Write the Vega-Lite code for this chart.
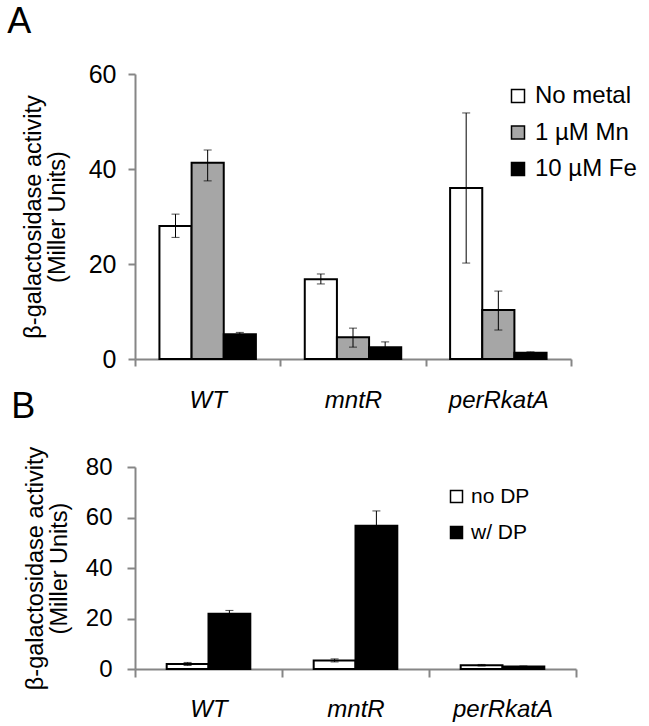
{
  "$schema": "https://vega.github.io/schema/vega-lite/v6.json",
  "padding": {"left": 7, "top": 4, "right": 5, "bottom": 5},
  "bounds": "flush",
  "spacing": 108,
  "config": {
    "view": {"stroke": null},
    "font": "Liberation Sans",
    "axis": {
      "domainColor": "#868686", "domainWidth": 2, "tickColor": "#868686", "tickWidth": 2,
      "labelColor": "black", "titleColor": "black", "grid": false, "labelFont": "Liberation Sans", "titleFont": "Liberation Sans", "titleFontWeight": "normal"
    },
    "axisY": {"titleFontSize": 23.5, "titleLineHeight": 24, "labelFontSize": 25, "titleLimit": 1000},
    "axisX": {"labelFontSize": 24, "labelFontStyle": "italic", "labelAngle": 0},
    "legend": {"padding": 0}
  },
  "datasets": {
    "A": [
      {"strain": "WT", "condition": "No metal", "mean": 28.0, "lo": 25.6, "hi": 30.5},
      {"strain": "WT", "condition": "1 µM Mn", "mean": 41.3, "lo": 37.5, "hi": 44.0},
      {"strain": "WT", "condition": "10 µM Fe", "mean": 5.2, "lo": 4.8, "hi": 5.6},
      {"strain": "mntR", "condition": "No metal", "mean": 16.8, "lo": 15.8, "hi": 17.9},
      {"strain": "mntR", "condition": "1 µM Mn", "mean": 4.6, "lo": 2.5, "hi": 6.5},
      {"strain": "mntR", "condition": "10 µM Fe", "mean": 2.5, "lo": 1.4, "hi": 3.6},
      {"strain": "perRkatA", "condition": "No metal", "mean": 36.0, "lo": 20.2, "hi": 51.8},
      {"strain": "perRkatA", "condition": "1 µM Mn", "mean": 10.3, "lo": 6.1, "hi": 14.3},
      {"strain": "perRkatA", "condition": "10 µM Fe", "mean": 1.3, "lo": 1.1, "hi": 1.5}
    ],
    "B": [
      {"strain": "WT", "condition": "no DP", "mean": 2.0, "lo": 1.4, "hi": 2.6},
      {"strain": "WT", "condition": "w/ DP", "mean": 21.9, "lo": 20.6, "hi": 23.2},
      {"strain": "mntR", "condition": "no DP", "mean": 3.4, "lo": 2.8, "hi": 4.0},
      {"strain": "mntR", "condition": "w/ DP", "mean": 56.7, "lo": 50.8, "hi": 62.6},
      {"strain": "perRkatA", "condition": "no DP", "mean": 1.5, "lo": 1.2, "hi": 1.8},
      {"strain": "perRkatA", "condition": "w/ DP", "mean": 1.0, "lo": 0.8, "hi": 1.2}
    ]
  },
  "vconcat": [
    {
      "width": 436,
      "height": 285,
      "title": {"text": "A", "anchor": "start", "frame": "bounds", "fontSize": 36, "fontWeight": "normal", "font": "Liberation Sans", "dx": -14, "offset": 21, "color": "black"},
      "data": {"name": "A"},
      "encoding": {
        "x": {"field": "strain", "type": "nominal", "sort": null, "title": null,
          "scale": {"paddingInner": 0, "paddingOuter": 0},
          "axis": {"tickBand": "extent", "tickSize": 7, "labelPadding": 22}},
        "xOffset": {"field": "condition", "type": "nominal", "sort": null, "scale": {"paddingInner": 0, "paddingOuter": 0.76}}
      },
      "layer": [
        {
          "mark": {"type": "bar", "stroke": "black", "strokeWidth": 2},
          "encoding": {
            "y": {"field": "mean", "type": "quantitative", "title": ["β-galactosidase activity", "(Miller Units)"],
              "scale": {"domain": [0, 60]},
              "axis": {"values": [0, 20, 40, 60], "tickSize": 7, "labelPadding": 12, "labelFontSize": 25, "titleFontSize": 23.5, "titleLineHeight": 24, "titlePadding": 19}},
            "color": {"field": "condition", "type": "nominal", "sort": null,
              "scale": {"domain": ["No metal", "1 µM Mn", "10 µM Fe"], "range": ["white", "#a6a6a6", "black"]},
              "legend": {"title": null, "orient": "none", "legendX": 371, "legendY": 10, "symbolType": "square", "symbolSize": 169, "symbolStrokeColor": "black", "symbolStrokeWidth": 1.5, "labelFontSize": 24, "labelColor": "black", "labelOffset": 5, "rowPadding": 12.5, "labelFont": "Liberation Sans"}}
          }
        },
        {
          "mark": {"type": "rule", "color": "black", "strokeWidth": 1},
          "encoding": {
            "y": {"field": "lo", "type": "quantitative", "title": ["β-galactosidase activity", "(Miller Units)"],
              "axis": {"values": [0, 20, 40, 60], "tickSize": 7, "labelPadding": 12, "labelFontSize": 25, "titleFontSize": 23.5, "titleLineHeight": 24, "titlePadding": 19}},
            "y2": {"field": "hi"}
          }
        },
        {
          "mark": {"type": "tick", "color": "black", "thickness": 1, "size": 8},
          "encoding": {"y": {"field": "lo", "type": "quantitative", "title": ["β-galactosidase activity", "(Miller Units)"],
              "axis": {"values": [0, 20, 40, 60], "tickSize": 7, "labelPadding": 12, "labelFontSize": 25, "titleFontSize": 23.5, "titleLineHeight": 24, "titlePadding": 19}}}
        },
        {
          "mark": {"type": "tick", "color": "black", "thickness": 1, "size": 8},
          "encoding": {"y": {"field": "hi", "type": "quantitative", "title": ["β-galactosidase activity", "(Miller Units)"],
              "axis": {"values": [0, 20, 40, 60], "tickSize": 7, "labelPadding": 12, "labelFontSize": 25, "titleFontSize": 23.5, "titleLineHeight": 24, "titlePadding": 19}}}
        }
      ]
    },
    {
      "width": 441,
      "height": 202,
      "title": {"text": "B", "anchor": "start", "frame": "bounds", "fontSize": 36, "fontWeight": "normal", "font": "Liberation Sans", "dx": -12, "offset": 20, "color": "black"},
      "data": {"name": "B"},
      "encoding": {
        "x": {"field": "strain", "type": "nominal", "sort": null, "title": null,
          "scale": {"paddingInner": 0, "paddingOuter": 0},
          "axis": {"tickBand": "extent", "tickSize": 8, "labelPadding": 20}},
        "xOffset": {"field": "condition", "type": "nominal", "sort": null, "scale": {"paddingInner": 0, "paddingOuter": 0.758}}
      },
      "layer": [
        {
          "mark": {"type": "bar", "stroke": "black", "strokeWidth": 2},
          "encoding": {
            "y": {"field": "mean", "type": "quantitative", "title": ["β-galactosidase activity", "(Miller Units)"],
              "scale": {"domain": [0, 80]},
              "axis": {"values": [0, 20, 40, 60, 80], "labelFontSize": 24, "tickSize": 8, "labelPadding": 15, "titleFontSize": 23.5, "titleLineHeight": 24, "titlePadding": 14}},
            "color": {"field": "condition", "type": "nominal", "sort": null,
              "scale": {"domain": ["no DP", "w/ DP"], "range": ["white", "black"]},
              "legend": {"title": null, "orient": "none", "legendX": 311, "legendY": 19, "symbolType": "square", "symbolSize": 144, "symbolStrokeColor": "black", "symbolStrokeWidth": 1.5, "labelFontSize": 21, "labelColor": "black", "labelOffset": 4, "rowPadding": 14, "labelFont": "Liberation Sans"}}
          }
        },
        {
          "mark": {"type": "rule", "color": "black", "strokeWidth": 1},
          "encoding": {
            "y": {"field": "lo", "type": "quantitative", "title": ["β-galactosidase activity", "(Miller Units)"],
              "axis": {"values": [0, 20, 40, 60, 80], "labelFontSize": 24, "tickSize": 8, "labelPadding": 15, "titleFontSize": 23.5, "titleLineHeight": 24, "titlePadding": 14}},
            "y2": {"field": "hi"}
          }
        },
        {
          "mark": {"type": "tick", "color": "black", "thickness": 1, "size": 8},
          "encoding": {"y": {"field": "lo", "type": "quantitative", "title": ["β-galactosidase activity", "(Miller Units)"],
              "axis": {"values": [0, 20, 40, 60, 80], "labelFontSize": 24, "tickSize": 8, "labelPadding": 15, "titleFontSize": 23.5, "titleLineHeight": 24, "titlePadding": 14}}}
        },
        {
          "mark": {"type": "tick", "color": "black", "thickness": 1, "size": 8},
          "encoding": {"y": {"field": "hi", "type": "quantitative", "title": ["β-galactosidase activity", "(Miller Units)"],
              "axis": {"values": [0, 20, 40, 60, 80], "labelFontSize": 24, "tickSize": 8, "labelPadding": 15, "titleFontSize": 23.5, "titleLineHeight": 24, "titlePadding": 14}}}
        }
      ]
    }
  ],
  "resolve": {"scale": {"color": "independent", "x": "independent", "xOffset": "independent", "y": "independent"}, "legend": {"color": "independent"}}
}
